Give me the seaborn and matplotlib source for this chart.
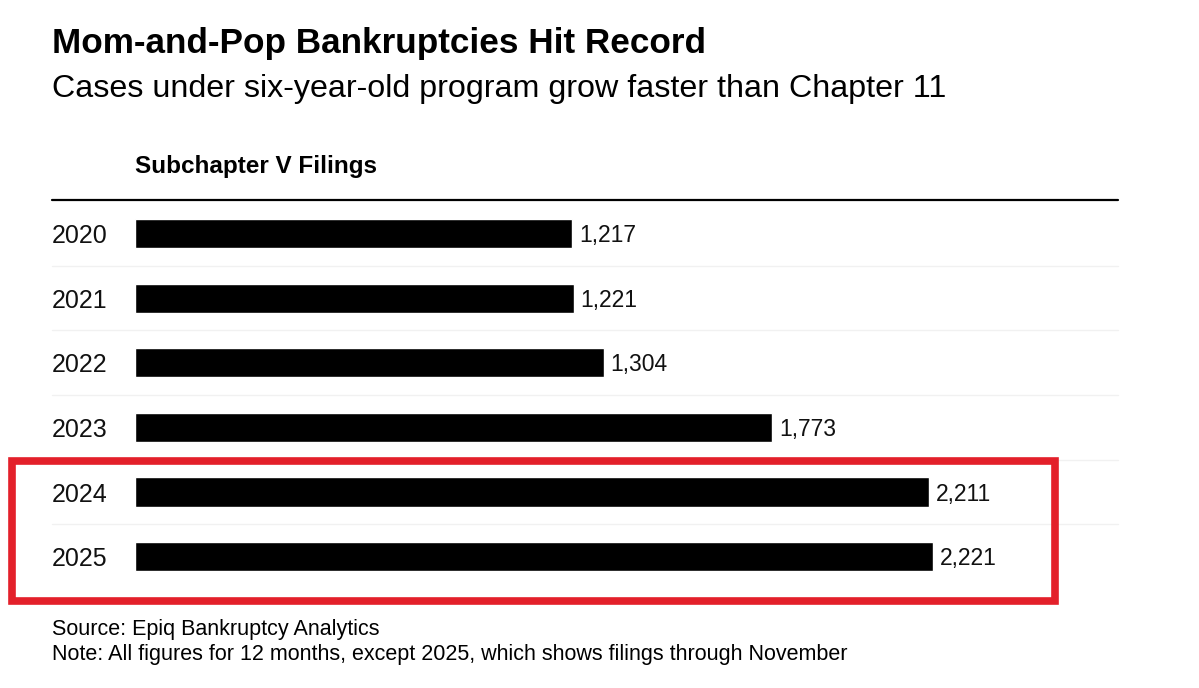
import matplotlib
matplotlib.use("Agg")
import matplotlib.pyplot as plt
import seaborn as sns
import pandas as pd
from matplotlib.lines import Line2D
from matplotlib.patches import Rectangle

# data
years = ["2020", "2021", "2022", "2023", "2024", "2025"]
filings = [1217, 1221, 1304, 1773, 2211, 2221]

df = pd.DataFrame({"Year": years, "Filings": filings})

W, H = 1199, 688
sns.set_theme(style="white")
plt.rcParams["font.family"] = ["Liberation Sans", "DejaVu Sans"]

fig = plt.figure(figsize=(W / 100, H / 100), dpi=100)

# axes placed in pixel terms: left 135, right 1118, top 200, bottom ~589
def fx(px):
    return px / W

def fy(py):
    return 1 - py / H

ax = fig.add_axes([fx(135), fy(589), fx(1118) - fx(135), fy(200) - fy(589)])

sns.barplot(data=df, x="Filings", y="Year", orient="h", color="black",
            width=0.45, saturation=1, ax=ax)

ax.set_xlim(0, 983 / 0.3593)
ax.set_ylim(5.5, -0.518)
ax.set_xlabel("")
ax.set_ylabel("")
ax.set_xticks([])
for s in ax.spines.values():
    s.set_visible(False)

ax.tick_params(axis="y", length=0, pad=83 / 100 * 72, labelsize=18)
for lab in ax.get_yticklabels():
    lab.set_horizontalalignment("left")
    lab.set_color("#111111")

# value labels
for i, v in enumerate(filings):
    ax.annotate(f"{v:,}", (v, i), xytext=(5, -1.5), textcoords="offset points",
                ha="left", va="center", fontsize=16.5, color="#111111")

# faint row separators
for i in range(len(years) - 1):
    yy = fy(233.5 + 64.6 * i + 32.3)
    fig.add_artist(Line2D([fx(52), fx(1118)], [yy, yy], color="#f1f1f1", lw=1, zorder=1))

# header rule
fig.add_artist(Line2D([fx(52), fx(1118)], [fy(200), fy(200)], color="black", lw=1.6))

# red highlight box
box = Rectangle((fx(12), fy(601)), fx(1055) - fx(12), fy(461) - fy(601),
                fill=False, edgecolor="#e3202a", lw=5.5, zorder=5)
fig.add_artist(box)

# texts
fig.text(fx(52), fy(53), "Mom-and-Pop Bankruptcies Hit Record", fontsize=25.3,
         fontweight="bold", va="baseline", ha="left", color="black")
fig.text(fx(52), fy(97), "Cases under six-year-old program grow faster than Chapter 11",
         fontsize=23.2, va="baseline", ha="left", color="black")
fig.text(fx(135), fy(173), "Subchapter V Filings", fontsize=17.5, fontweight="bold",
         va="baseline", ha="left", color="black")
fig.text(fx(52), fy(635), "Source: Epiq Bankruptcy Analytics", fontsize=15.5,
         va="baseline", ha="left", color="black")
fig.text(fx(52), fy(660), "Note: All figures for 12 months, except 2025, which shows filings through November",
         fontsize=15.5, va="baseline", ha="left", color="black")

fig.savefig("out.png", dpi=100, facecolor="white")
